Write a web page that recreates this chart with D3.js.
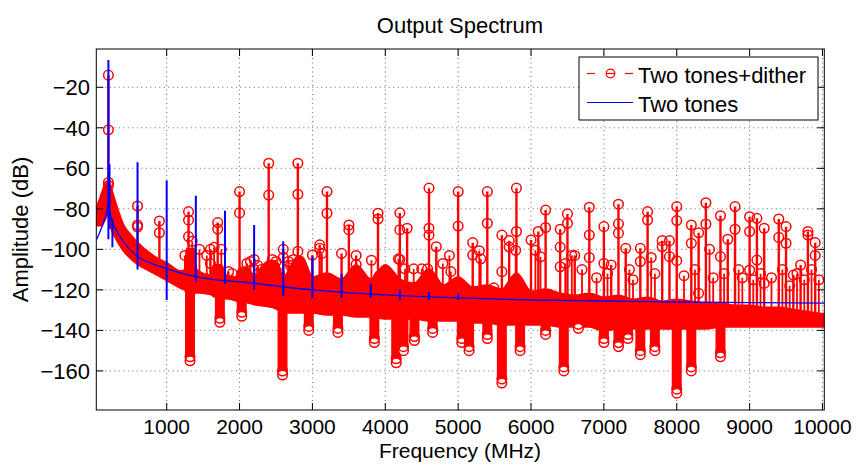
<!DOCTYPE html>
<html><head><meta charset="utf-8">
<script src="https://cdn.jsdelivr.net/npm/d3@7"></script>
<style>body{margin:0;background:#fff} text{font-family:"Liberation Sans",Arial,Helvetica,sans-serif;fill:#000}</style>
</head><body><svg id="c" width="856" height="464"></svg>
<script>
// ---------- DATA ----------
const xTicks=[1000,2000,3000,4000,5000,6000,7000,8000,9000,10000];
const xTickLabels=["1000","2000","3000","4000","5000","6000","7000","8000","9000","10000"];
const yTicks=[-160,-140,-120,-100,-80,-60,-40,-20];
const yTickLabels=["\u2212160","\u2212140","\u2212120","\u2212100","\u221280","\u221260","\u221240","\u221220"];

// "Two tones" floor (blue)
const blueFreq=[40,100,150,185,200,215,250,300,400,600,800,1000,1400,1800,2000,2600,3000,4000,5000,6000,7000,8000,9000,10025];
const blueDb=[-95,-90,-85,-80,-76,-80,-86,-90,-96,-103.5,-107,-109.5,-113.5,-115.5,-116,-118.5,-120,-122.5,-124,-125,-125.5,-126,-126.3,-126.5];
// blue spurs: freq, top, bottom
const blueSpurFreq=[200,215,255,600,1000,1400,1800,2200,2600,3000,3400,3800,4200,4600,5000];
const blueSpurTop=[-6.5,-58,-85,-57,-66,-73.5,-81,-88,-96,-103.5,-112,-117,-120,-121,-122];
const blueSpurBottom=[-95,-90,-99,-110,-125,-116,-117,-120,-123,-124,-124,-124,-125,-125,-125];

// "Two tones+dither" dense floor band (red)
const bandFreq=[40,100,150,200,250,300,400,500,600,800,1000,1200,1260,1280,1360,1400,1600,1650,1750,1800,1950,2000,2100,2200,2400,2500,2600,2800,2850,3000,3200,3400,3600,3800,4000,4200,4400,4600,4800,5000,5200,5400,5600,5800,6000,6200,6400,6600,6800,7000,7200,7400,7600,7800,8000,8200,8400,8600,8800,9000,9200,9400,9600,9800,10000,10025];
const bandTop=[-80,-74,-69,-67,-72,-78,-88,-93,-97,-103,-107,-111,-110,-100,-100,-110,-113,-108,-108,-113,-114,-110,-110,-113,-106,-106,-114,-104,-104,-114,-112,-115,-108,-115,-108,-115,-117,-110,-118,-114,-119,-118,-120,-112,-121,-120,-122,-123,-122,-124,-123,-125,-124,-126,-125,-126,-127,-127,-128,-128,-129,-129,-130,-131,-132,-132];
const bandBottom=[-88,-88,-85,-82,-90,-94,-100,-104,-107,-111,-115,-119,-120,-122,-122,-121,-122,-123,-125,-124,-125,-126,-126,-127,-128,-129,-131,-131,-131,-131,-132,-132,-133,-133,-134,-134,-134,-135,-135,-135,-136,-136,-137,-137,-137,-137,-138,-138,-138,-140,-139,-139,-139,-139,-139,-139,-139,-138,-138,-138,-138,-138,-138,-138,-138,-138];

// downward fingers of the red floor: freq, lowest level
const dipFreq=[1320,1730,2030,2590,2950,3350,3850,4150,4250,4400,4650,5050,5150,5400,5600,5850,6200,6450,6650,7000,7200,7330,7500,7700,8000,8200,8600];
const dipDb=[-155,-136,-133,-162,-140,-141,-146,-156,-150,-145,-141,-146,-150,-144,-166,-150,-142,-160,-139,-146,-148,-144,-152,-150,-171,-160,-153];

// red spurs: freq and the levels of their markers
const spurFreq=[200,600,900,1300,1600,1700,2000,2100,2200,2300,2400,2500,2600,2700,2800,3000,3100,3200,3400,3500,3600,3900,4200,4300,4600,4700,5000,5200,5400,5600,5700,5800,6000,6100,6200,6400,6500,6600,6800,7000,7100,7200,7300,7500,7600,7800,7900,8000,8200,8300,8400,8600,8700,8800,9000,9100,9200,9400,9500,9600,9700,9800,9900];
const spurLevels=[[-14,-41,-67,-68.5],[-78.6,-88,-89],[-86,-91.8],[-81.4,-85.6,-93.7],[-100,-107],[-86.8,-90],[-71.5,-82],[-107],[-105,-110],[-110],[-57.5,-73.2],[-106],[-100,-104],[-108],[-57.5,-72.8,-101],[-102.8],[-97.8,-99.5],[-71.5,-82.2],[-102],[-88,-90.4],[-103,-107.5],[-82.2,-85],[-82,-90.4,-105],[-89.6],[-69.8,-89.6,-93],[-98.7],[-71.5,-88.5],[-96.7,-102.8],[-71.5,-87.1],[-93,-111],[-95.7,-98.9],[-69.8,-91.2],[-95.4],[-91.2],[-80.6,-89.2],[-90.1,-98.9,-108.6],[-82.5,-87.1],[-103],[-79.2,-92.9,-104.1],[-88.8,-106.9],[-107.7],[-77.7,-87.4,-92],[-99.5],[-99.5,-106],[-81.4,-85.5],[-95.7,-98.7],[-95.7,-103.6],[-78.9,-85.8,-105.6],[-88,-97],[-91.8,-121.7],[-77,-87.5],[-83.4,-103.6],[-95],[-78.9,-90.1],[-83.9,-91.2,-110.2],[-84.7,-105.3],[-89.6,-116.8],[-85,-94.1],[-88.8,-97],[-112.7],[-107.7],[-91.2,-92.9],[-96.7,-103]];

// smaller red spurs just above the floor: freq, marker level
const minorFreq=[1250,1350,1450,1550,1650,1750,1850,1900,2050,2150,2250,2350,2450,2550,2669,2737,3130,3810,3904,3920,4010,4180,4270,4390,4500,4580,4790,4880,4900,5290,5310,5490,5790,6060,6130,6470,6560,6700,6900,7050,7350,7400,7650,7700,8100,8250,8450,8500,8650,8850,8900,9050,9150,9300,9450,9550,9650,9750,9850,9950];
const minorDb=[-103,-96,-100,-103,-99,-100,-111,-112,-111,-106,-108,-110,-105,-112,-106,-105,-102,-105.4,-114,-113,-114,-104.7,-109.6,-109.6,-109.6,-109.6,-107,-103,-111,-100.7,-104.7,-119,-100.5,-100.5,-103.7,-107,-103,-110,-114,-112,-110,-115,-104,-112,-113,-110,-100,-114,-112,-110,-114,-115,-112,-114,-110,-118,-112,-115,-110,-115];

const seriesNames=["Two tones+dither","Two tones"];
const RED="#ff0000", BLUE="#0000ff";

// ---------- CHART ----------
const svg=d3.select("#c");
svg.append("rect").attr("width",856).attr("height",464).attr("fill","#fff");
const L=96.3,R=824.3,T=49,B=410;
const x=d3.scaleLinear().domain([34,10025]).range([L,R]);
const y=d3.scaleLinear().domain([-179.3,-1.1]).range([B,T]);
const MR=4.8, MW=1.5;

svg.append("clipPath").attr("id","clip").append("rect").attr("x",L).attr("y",T).attr("width",R-L).attr("height",B-T);

// grid
const grid=svg.append("g").attr("stroke","#333").attr("stroke-width",1).attr("stroke-dasharray","1,3.5").attr("opacity",0.75);
xTicks.forEach(v=>grid.append("line").attr("x1",x(v)).attr("x2",x(v)).attr("y1",T).attr("y2",B));
yTicks.forEach(v=>grid.append("line").attr("y1",y(v)).attr("y2",y(v)).attr("x1",L).attr("x2",R));

const plot=svg.append("g").attr("clip-path","url(#clip)");

// red band
const band=bandFreq.map((f,i)=>({f,t:bandTop[i],b:bandBottom[i]}));
plot.append("path").datum(band)
  .attr("d",d3.area().x(d=>x(d.f)).y0(d=>y(d.b)).y1(d=>y(d.t)).curve(d3.curveMonotoneX))
  .attr("fill",RED).attr("stroke",RED).attr("stroke-width",3).attr("stroke-linejoin","round");
const topAt=d3.scaleLinear().domain(bandFreq).range(bandTop);
const botAt=d3.scaleLinear().domain(bandFreq).range(bandBottom);

// fingers
dipFreq.forEach((f,i)=>{
  plot.append("line").attr("x1",x(f)).attr("x2",x(f)).attr("y1",y(botAt(f))).attr("y2",y(dipDb[i])-5)
    .attr("stroke",RED).attr("stroke-width",10).attr("stroke-linecap","round");
  plot.append("circle").attr("cx",x(f)).attr("cy",y(dipDb[i])).attr("r",MR)
    .attr("fill","#fff").attr("stroke",RED).attr("stroke-width",MW);
  plot.append("circle").attr("cx",x(f)).attr("cy",y(dipDb[i])-4).attr("r",MR)
    .attr("fill","none").attr("stroke",RED).attr("stroke-width",MW);
});

// minor spurs
minorFreq.forEach((f,i)=>{
  plot.append("line").attr("x1",x(f)).attr("x2",x(f)).attr("y1",y(topAt(f))).attr("y2",y(minorDb[i]))
    .attr("stroke",RED).attr("stroke-width",1.8);
  plot.append("circle").attr("cx",x(f)).attr("cy",y(minorDb[i])).attr("r",MR)
    .attr("fill","none").attr("stroke",RED).attr("stroke-width",MW);
});

// spurs
spurFreq.forEach((f,i)=>{
  const lv=spurLevels[i];
  const top=d3.max(lv);
  plot.append("line").attr("x1",x(f)).attr("x2",x(f)).attr("y1",y(topAt(f))).attr("y2",y(top))
    .attr("stroke",RED).attr("stroke-width",2.4);
  lv.forEach(v=>plot.append("circle").attr("cx",x(f)).attr("cy",y(v)).attr("r",MR)
    .attr("fill","none").attr("stroke",RED).attr("stroke-width",MW));
});

// blue floor
plot.append("path").datum(blueFreq.map((f,i)=>[f,blueDb[i]]))
  .attr("d",d3.line().x(d=>x(d[0])).y(d=>y(d[1])).curve(d3.curveMonotoneX))
  .attr("fill","none").attr("stroke",BLUE).attr("stroke-width",1.3);
blueSpurFreq.forEach((f,i)=>{
  plot.append("line").attr("x1",x(f)).attr("x2",x(f)).attr("y1",y(blueSpurBottom[i])).attr("y2",y(blueSpurTop[i]))
    .attr("stroke",BLUE).attr("stroke-width",2);
});

// axes box + ticks
const ax=svg.append("g").attr("stroke","#000").attr("stroke-width",1);
ax.append("rect").attr("x",L).attr("y",T).attr("width",R-L).attr("height",B-T).attr("fill","none");
xTicks.forEach(v=>{ax.append("line").attr("x1",x(v)).attr("x2",x(v)).attr("y1",B).attr("y2",B-7);
  ax.append("line").attr("x1",x(v)).attr("x2",x(v)).attr("y1",T).attr("y2",T+7);});
yTicks.forEach(v=>{ax.append("line").attr("y1",y(v)).attr("y2",y(v)).attr("x1",L).attr("x2",L+7);
  ax.append("line").attr("y1",y(v)).attr("y2",y(v)).attr("x1",R).attr("x2",R-7);});

const fs=22, fsx=21;
xTicks.forEach((v,i)=>svg.append("text").attr("x",x(v)).attr("y",434).attr("text-anchor","middle").attr("font-size",fsx).text(xTickLabels[i]));
yTicks.forEach((v,i)=>svg.append("text").attr("x",90).attr("y",y(v)+8).attr("text-anchor","end").attr("font-size",fs).text(yTickLabels[i]));
svg.append("text").attr("x",460).attr("y",33).attr("text-anchor","middle").attr("font-size",fs).text("Output Spectrum");
svg.append("text").attr("x",460).attr("y",458).attr("text-anchor","middle").attr("font-size",fsx).text("Frequency (MHz)");
svg.append("text").attr("transform","translate(28,229.5) rotate(-90)").attr("text-anchor","middle").attr("font-size",fs).text("Amplitude (dB)");

// legend
const lg=svg.append("g");
lg.append("rect").attr("x",579).attr("y",57).attr("width",239).attr("height",63).attr("fill","#fff").attr("stroke","#000").attr("stroke-width",1);
[[587,595],[606,615],[625,633]].forEach(s=>lg.append("line").attr("x1",s[0]).attr("x2",s[1]).attr("y1",73.5).attr("y2",73.5).attr("stroke",RED).attr("stroke-width",1.2));
lg.append("circle").attr("cx",610.5).attr("cy",73.5).attr("r",4.3).attr("fill","none").attr("stroke",RED).attr("stroke-width",1.2);
lg.append("line").attr("x1",587).attr("x2",633).attr("y1",102.5).attr("y2",102.5).attr("stroke",BLUE).attr("stroke-width",1);
lg.append("text").attr("x",638).attr("y",82.5).attr("font-size",fs).text(seriesNames[0]);
lg.append("text").attr("x",638).attr("y",111.5).attr("font-size",fs).text(seriesNames[1]);
</script></body></html>
